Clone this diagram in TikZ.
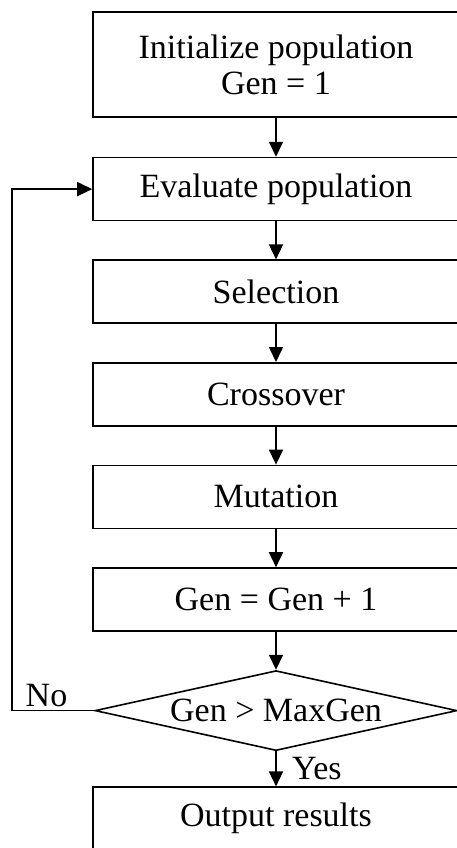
\documentclass[tikz,border=0pt]{standalone}
\usepackage{fontspec}
\setmainfont{Liberation Serif}
\usetikzlibrary{positioning,shapes.geometric,arrows.meta}

\begin{document}
\begin{tikzpicture}[
  x=1pt, y=1pt,
  line width=1.6pt,
  every node/.style={font=\fontsize{34}{36}\selectfont},
  stepbox/.style={draw, rectangle, minimum width=366pt, minimum height=63pt, inner sep=0pt},
  decision/.style={draw, diamond, aspect=4.5, minimum width=362pt, minimum height=80pt, inner sep=0pt},
  flow/.style={-{Triangle[length=15pt,width=14pt]}}
]
\useasboundingbox (0,0) rectangle (457,-848);
\clip (0,0) rectangle (457,-848);

% main chain of boxes:
\node [stepbox, minimum height=105pt, align=center] (init) at (276,-64.5) {Initialize population\\Gen = 1};
\node [stepbox, below=39pt of init] (eval) {Evaluate population};
\node [stepbox, below=38pt of eval] (sel) {Selection};
\node [stepbox, below=38pt of sel] (cross) {Crossover};
\node [stepbox, below=38pt of cross] (mut) {Mutation};
\node [stepbox, below=38pt of mut] (gen) {Gen = Gen + 1};
\node [decision, below=38pt of gen] (test) {Gen > MaxGen};
\node [stepbox, below=35pt of test] (out) {Output results};

\foreach \a/\b in {init/eval, eval/sel, sel/cross, cross/mut, mut/gen, gen/test} {
  \draw [flow] (\a) -- (\b);
}
\draw [flow] (test) -- node[right, xshift=12pt] {Yes} (out);

% loop back when the test fails
\coordinate (back) at (12,0);
\draw [flow] (test.west) -- node[above, pos=0.58] {No} (test.west -| back)
  -- (eval.west -| back) -- (eval.west);

\end{tikzpicture}
\end{document}
